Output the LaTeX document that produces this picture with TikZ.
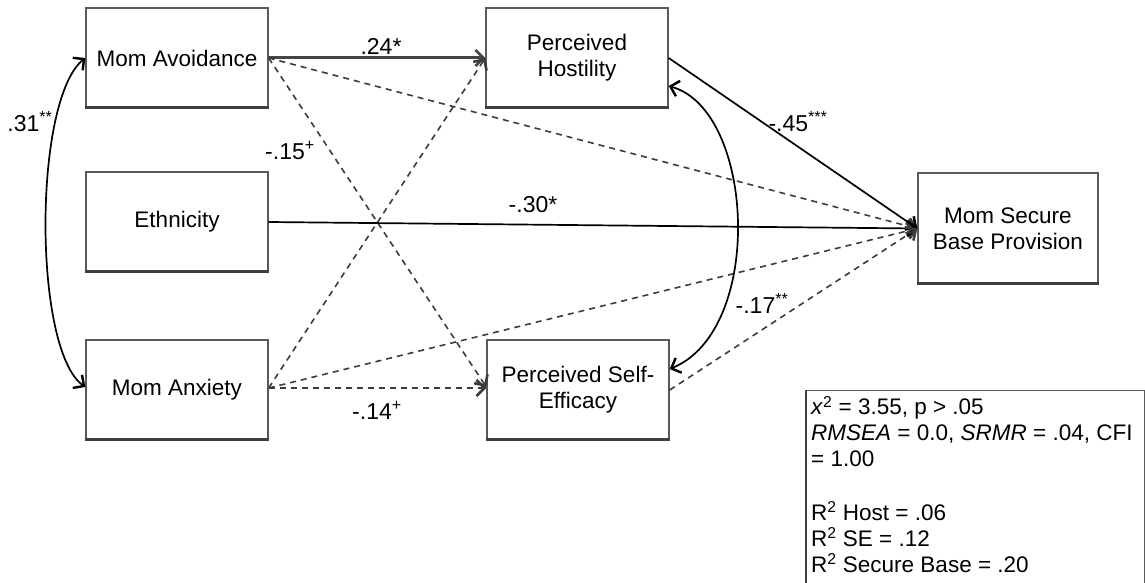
\documentclass[tikz,border=0pt]{standalone}
\usepackage{fontspec}
\setmainfont{Liberation Sans}
\usetikzlibrary{arrows.meta,calc}
\definecolor{boxline}{HTML}{5A5A5A}
\definecolor{shadowline}{HTML}{404040}
\definecolor{dashcol}{HTML}{3C3C3C}
\definecolor{thickcol}{HTML}{454545}
\tikzset{
  x=1pt,y=-1pt,
  varbox/.style={draw=boxline,line width=1.4pt,fill=white,minimum width=182pt,minimum height=100pt,inner sep=0pt,align=center,font=\fontsize{22.5}{26}\selectfont},
  barb/.style={-{Straight Barb[length=8pt,width=16pt,line width=2.6pt]}},
  dbarb/.style={{Straight Barb[length=8pt,width=16pt,line width=2.4pt]}-{Straight Barb[length=8pt,width=16pt,line width=2.4pt]}},
  dashpath/.style={barb,draw=dashcol,line width=1.6pt,dash pattern=on 6pt off 5pt},
  solidpath/.style={barb,draw=black,line width=1.7pt},
  thickpath/.style={barb,draw=thickcol,line width=3pt},
  covpath/.style={dbarb,draw=black,line width=1.7pt},
  coef/.style={font=\fontsize{23}{26}\selectfont,inner sep=1pt},
  fitlines/.style={anchor=north west,align=left,inner sep=0pt,font=\fontsize{22.5}{26}\selectfont}
}
\newcommand{\shadowbottom}[1]{\draw[shadowline,line width=2.6pt] ([yshift=1pt]#1.south west) -- ([yshift=1pt]#1.south east);}
\begin{document}
\begin{tikzpicture}
\useasboundingbox (0,0) rectangle (1145,583);
% boxes
\node[varbox] (ma) at (177,58) {Mom Avoidance};
\node[varbox] (eth) at (177,222) {Ethnicity};
\node[varbox] (manx) at (177,390) {Mom Anxiety};
\node[varbox] (ph) at (577,58) {Perceived\\Hostility};
\node[varbox] (pse) at (578,390) {Perceived Self-\\Efficacy};
\node[varbox,minimum width=180pt,minimum height=111pt] (sb) at (1008,228.5) {Mom Secure\\Base Provision};
\shadowbottom{ma}\shadowbottom{eth}\shadowbottom{manx}\shadowbottom{ph}\shadowbottom{pse}\shadowbottom{sb}
% fit box
\node[draw=boxline,line width=1.4pt,minimum width=339pt,minimum height=194pt,anchor=north west,inner sep=0pt] (fit) at (805,390) {};
\draw[shadowline,line width=2.6pt] ([xshift=1pt]fit.north west) -- ([xshift=1pt]fit.south west);
\node[fitlines] (fittext) at (811,396) {\textit{x}\textsuperscript{2} = 3.55, p > .05\\
\textit{RMSEA} = 0.0, \textit{SRMR} = .04, CFI\\
= 1.00\\
\strut\\
R\textsuperscript{2} Host = .06\\
R\textsuperscript{2} SE = .12\\
R\textsuperscript{2} Secure Base = .20};
% paths
\draw[thickpath] (ma.east) -- (ph.west);
\draw[dashpath] (ma.east) -- (sb.west);
\draw[dashpath] (ma.east) -- ([yshift=3pt]pse.west);
\draw[dashpath] ([yshift=2pt]manx.east) -- (ph.west);
\draw[dashpath] ([yshift=2pt]manx.east) -- (sb.west);
\draw[dashpath] ([yshift=2pt]manx.east) -- ([yshift=2pt]pse.west);
\draw[solidpath] (eth.east) -- (sb.west);
\draw[solidpath] (ph.east) -- (sb.west);
\draw[dashpath] (pse.east) -- (sb.west);
% covariances
\draw[covpath] ([yshift=-28pt]ph.east) .. controls (755,110) and (765,330) .. ([yshift=21pt]pse.east);
\draw[covpath] (ma.west) .. controls (33,100) and (33,350) .. ([yshift=3pt]manx.west);
% labels
\node[coef] (l24) at (381,46) {.24*};
\node[coef] (l31) at (30,122) {.31\textsuperscript{**}};
\node[coef] (l15) at (290,150) {-.15\textsuperscript{+}};
\node[coef] (l30) at (533,205) {-.30*};
\node[coef] (l45) at (798,122) {-.45\textsuperscript{***}};
\node[coef] (l17) at (762,303) {-.17\textsuperscript{**}};
\node[coef] (l14) at (377,410) {-.14\textsuperscript{+}};
\end{tikzpicture}
\end{document}
